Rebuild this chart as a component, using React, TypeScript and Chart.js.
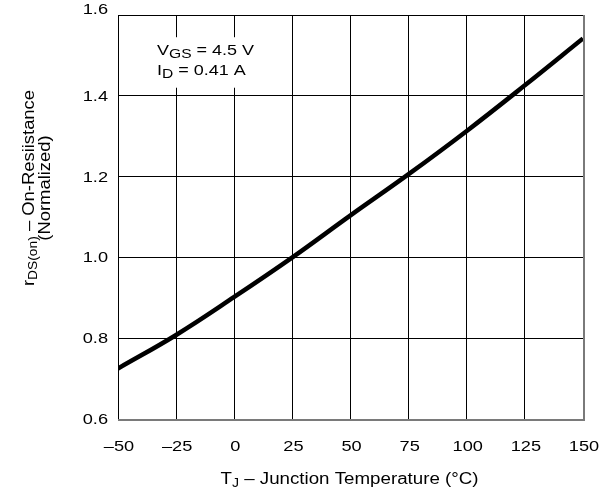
import React, { useEffect, useRef } from 'react';
import { Chart, registerables } from 'chart.js';

Chart.register(...registerables);

const temperatures = [-50, -25, 0, 25, 50, 75, 100, 125, 150];
const resistance = [0.725, 0.808, 0.902, 1.0, 1.104, 1.206, 1.313, 1.426, 1.542];
const xTickValues = [-50, -25, 0, 25, 50, 75, 100, 125, 150];
const yTickValues = [0.6, 0.8, 1.0, 1.2, 1.4, 1.6];

const FONT = '"Liberation Sans", Arial, Helvetica, sans-serif';

type Part = { t: string; sub?: boolean };

function richWidth(ctx: CanvasRenderingContext2D, parts: Part[], size: number, subSize: number) {
  let w = 0;
  for (const p of parts) {
    ctx.font = `${p.sub ? subSize : size}px ${FONT}`;
    w += ctx.measureText(p.t).width;
  }
  return w;
}

// draws text with optional subscripts, horizontally stretched by sx
function drawRich(
  ctx: CanvasRenderingContext2D,
  parts: Part[],
  x: number,
  y: number,
  size: number,
  subSize: number,
  subOffset: number,
  align: 'left' | 'center' | 'right',
  sx: number
) {
  const total = richWidth(ctx, parts, size, subSize) * sx;
  const start = align === 'center' ? x - total / 2 : align === 'right' ? x - total : x;
  ctx.save();
  ctx.translate(start, y);
  ctx.scale(sx, 1);
  ctx.textAlign = 'left';
  ctx.textBaseline = 'alphabetic';
  ctx.fillStyle = '#000';
  let cx = 0;
  for (const p of parts) {
    ctx.font = `${p.sub ? subSize : size}px ${FONT}`;
    ctx.fillText(p.t, cx, p.sub ? subOffset : 0);
    cx += ctx.measureText(p.t).width;
  }
  ctx.restore();
}

const fmtX = (v: number) => (v < 0 ? '\u2013' + Math.abs(v) : String(v));
const fmtY = (v: number) => v.toFixed(1);

const decorPlugin = {
  id: 'decor',
  afterDraw(chart: any) {
    const ctx: CanvasRenderingContext2D = chart.ctx;
    const a = chart.chartArea;
    const xs = chart.scales.x;
    const ys = chart.scales.y;
    ctx.save();
    // frame: top/left black, bottom/right grey
    ctx.strokeStyle = '#000';
    ctx.lineWidth = 1;
    ctx.beginPath();
    ctx.moveTo(a.left + 0.5, a.bottom);
    ctx.lineTo(a.left + 0.5, a.top + 0.5);
    ctx.lineTo(a.right, a.top + 0.5);
    ctx.stroke();
    ctx.strokeStyle = '#7a7a7a';
    ctx.lineWidth = 2;
    ctx.beginPath();
    ctx.moveTo(a.left, a.bottom + 1);
    ctx.lineTo(a.right + 1, a.bottom + 1);
    ctx.lineTo(a.right + 1, a.top);
    ctx.stroke();

    // tick labels
    xs.ticks.forEach((t: any) => {
      const px = xs.getPixelForValue(t.value);
      drawRich(ctx, [{ t: fmtX(t.value) }], px + 1, 451, 14, 11, 0, 'center', 1.3);
    });
    const last = ys.ticks.length - 1;
    ys.ticks.forEach((t: any, i: number) => {
      const py = ys.getPixelForValue(t.value);
      const base = i === last ? py - 1.5 : py + 5;
      drawRich(ctx, [{ t: fmtY(t.value) }], 108, base, 14, 11, 0, 'right', 1.3);
    });

    // annotation box
    const bx = xs.getPixelForValue(-34);
    const by = ys.getPixelForValue(1.545);
    const bw = xs.getPixelForValue(14) - bx;
    const bh = ys.getPixelForValue(1.42) - by;
    ctx.fillStyle = '#fff';
    ctx.fillRect(bx, by, bw, bh);
    drawRich(ctx, [{ t: 'V' }, { t: 'GS', sub: true }, { t: ' = 4.5 V' }], 157, 55, 15, 13, 3, 'left', 1.2);
    drawRich(ctx, [{ t: 'I' }, { t: 'D', sub: true }, { t: ' = 0.41 A' }], 157, 75, 15, 13, 3, 'left', 1.2);

    // x title
    const cxm = (a.left + a.right) / 2;
    drawRich(
      ctx,
      [{ t: 'T' }, { t: 'J', sub: true }, { t: ' \u2013 Junction Temperature (\u00B0C)' }],
      cxm - 1,
      484,
      16,
      12,
      3,
      'center',
      1.17
    );

    // y title (rotated)
    const cy = 188;
    ctx.save();
    ctx.translate(34, cy);
    ctx.rotate(-Math.PI / 2);
    drawRich(
      ctx,
      [{ t: 'r' }, { t: 'DS(on)', sub: true }, { t: ' \u2013 On-Resiistance' }],
      0,
      0,
      16,
      12,
      3,
      'center',
      1.15
    );
    ctx.restore();
    ctx.save();
    ctx.translate(50, cy);
    ctx.rotate(-Math.PI / 2);
    drawRich(ctx, [{ t: '(Normalized)' }], 0, 0, 16, 12, 3, 'center', 1.15);
    ctx.restore();
    ctx.restore();
  },
};

export default function App() {
  const ref = useRef<HTMLCanvasElement | null>(null);
  useEffect(() => {
    if (!ref.current) return;
    const chart = new Chart(ref.current, {
      type: 'line',
      data: {
        datasets: [
          {
            data: temperatures.map((t, i) => ({ x: t, y: resistance[i] })),
            borderColor: '#000',
            borderWidth: 4.5,
            pointRadius: 0,
            tension: 0.4,
            fill: false,
          },
        ],
      },
      options: {
        animation: false,
        responsive: false,
        maintainAspectRatio: false,
        events: [],
        layout: { padding: { left: 0, top: 15, right: 30, bottom: 0 } },
        plugins: { legend: { display: false }, tooltip: { enabled: false }, title: { display: false } },
        scales: {
          x: {
            type: 'linear',
            min: -50,
            max: 150,
            afterBuildTicks: (s: any) => {
              s.ticks = xTickValues.map((v) => ({ value: v }));
            },
            afterFit: (s: any) => {
              s.height = 75;
            },
            grid: { color: '#000', lineWidth: 1, drawTicks: false },
            border: { display: false },
            ticks: { display: false },
          },
          y: {
            type: 'linear',
            min: 0.6,
            max: 1.6,
            afterBuildTicks: (s: any) => {
              s.ticks = yTickValues.map((v) => ({ value: v }));
            },
            afterFit: (s: any) => {
              s.width = 118;
            },
            grid: { color: '#000', lineWidth: 1, drawTicks: false },
            border: { display: false },
            ticks: { display: false },
          },
        },
      },
      plugins: [decorPlugin],
    } as any);
    return () => chart.destroy();
  }, []);
  return (
    <div style={{ position: 'absolute', left: 0, top: 0, width: 613, height: 494, background: '#fff' }}>
      <canvas ref={ref} width={613} height={494} style={{ display: 'block' }} />
    </div>
  );
}
